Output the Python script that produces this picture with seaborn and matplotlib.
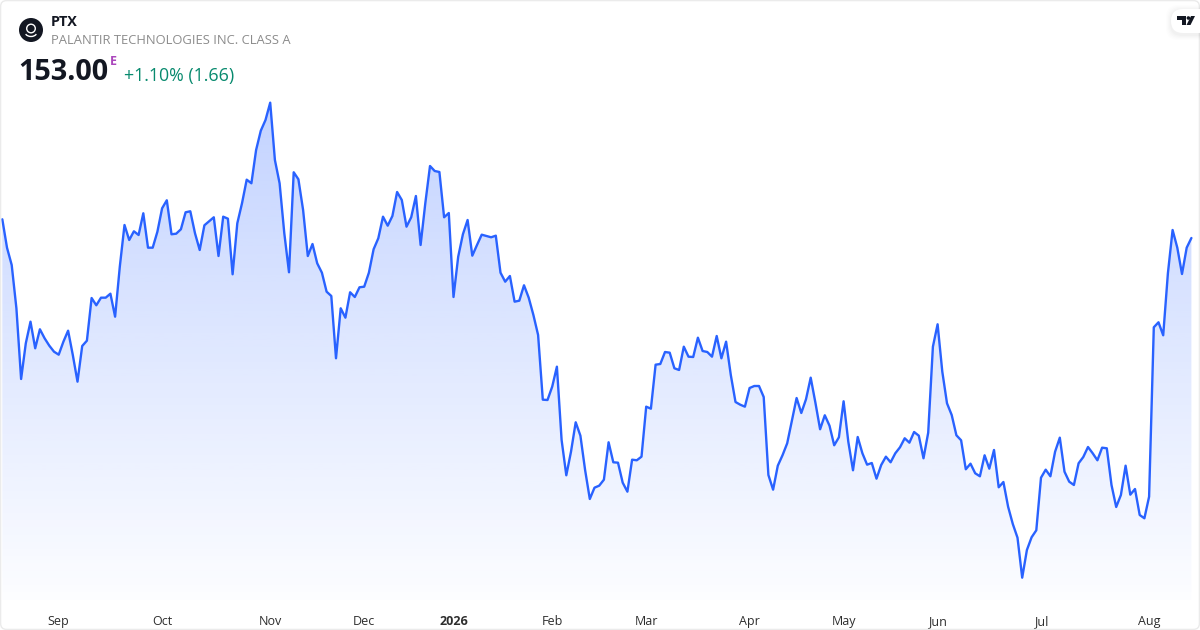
import numpy as np
import pandas as pd
import matplotlib
matplotlib.use("Agg")
import matplotlib.pyplot as plt
from matplotlib.patches import Circle, FancyBboxPatch, Polygon, Arc
import seaborn as sns

# closes, the y scale is not shown so only the last price is exact
closes = [
    157.68, 150.58, 146.25, 135.43, 117.75, 126.68, 132.08, 125.43, 130.18, 127.93,
    126.08, 124.58, 123.83, 127.08, 129.83, 123.75, 117.08, 126.00, 127.33, 138.00,
    136.18, 138.08, 138.08, 139.08, 133.33, 145.83, 156.25, 152.50, 154.68, 153.75,
    159.18, 150.58, 150.58, 154.58, 160.43, 162.43, 153.93, 154.08, 155.18, 159.43,
    159.68, 154.18, 150.00, 156.18, 157.18, 158.18, 148.50, 158.33, 157.83, 143.93,
    156.68, 161.68, 167.58, 166.68, 175.00, 179.83, 182.50, 186.83, 172.50, 166.68,
    154.18, 144.43, 169.43, 167.68, 160.00, 148.50, 151.50, 146.68, 144.33, 139.58,
    138.50, 122.93, 135.43, 133.08, 139.43, 138.25, 140.68, 140.83, 144.33, 150.18,
    152.93, 158.33, 156.08, 158.50, 164.50, 162.50, 155.83, 158.18, 163.50, 151.25,
    161.68, 171.00, 169.75, 169.50, 158.18, 159.25, 138.25, 148.33, 153.93, 157.50,
    148.58, 151.25, 153.83, 153.50, 153.18, 153.58, 144.33, 142.08, 143.50, 137.08,
    137.33, 141.18, 138.08, 133.75, 128.75, 112.58, 112.50, 115.83, 120.83, 102.50,
    93.68, 99.58, 106.93, 103.58, 95.00, 87.75, 90.58, 91.08, 92.58, 101.93,
    96.93, 96.83, 91.83, 89.58, 97.58, 97.43, 98.33, 110.83, 110.33, 121.33,
    121.50, 124.50, 124.33, 120.43, 120.00, 125.83, 123.33, 123.25, 128.08, 124.75,
    124.50, 123.33, 128.50, 122.93, 127.08, 118.75, 112.00, 111.33, 110.83, 115.50,
    116.00, 116.00, 113.25, 93.75, 90.08, 96.08, 98.68, 101.68, 107.33, 113.00,
    109.25, 112.68, 118.08, 111.83, 105.18, 108.68, 106.08, 101.18, 103.18, 112.18,
    102.08, 94.93, 103.25, 99.18, 96.33, 96.75, 92.83, 96.25, 98.33, 96.93,
    99.18, 100.68, 102.93, 101.83, 104.50, 103.58, 97.93, 104.33, 125.83, 131.43,
    119.58, 111.68, 108.75, 103.68, 102.43, 95.18, 96.58, 94.18, 93.43, 98.68,
    95.33, 100.00, 90.68, 92.00, 85.83, 81.50, 78.08, 68.08, 75.00, 78.18,
    79.93, 93.08, 95.08, 93.43, 99.58, 103.08, 94.58, 92.08, 91.25, 96.68,
    98.25, 100.75, 99.18, 97.43, 100.58, 100.43, 91.25, 85.75, 88.75, 96.08,
    88.83, 90.25, 83.75, 82.93, 88.33, 130.68, 131.93, 128.68, 144.18, 155.00,
    150.58, 144.00, 150.58, 153.00,
]
month_sessions = [12, 34, 57, 77, 96, 117, 137, 159, 179, 199, 221, 244]
month_labels = ["Sep", "Oct", "Nov", "Dec", "2026", "Feb", "Mar", "Apr", "May", "Jun", "Jul", "Aug"]

df = pd.DataFrame({"session": np.arange(len(closes)), "close": closes})

LINE = "#2962ff"
W, H = 1200, 630

sns.set_theme(style="white")
plt.rcParams["font.family"] = ["Open Sans", "DejaVu Sans"]

fig = plt.figure(figsize=(12, 6.3), dpi=100, facecolor="white")

# main chart, axes run from the top edge down to the time scale
ax = fig.add_axes([0, 30 / H, 1, 600 / H], facecolor="none")
sns.lineplot(data=df, x="session", y="close", color=LINE, linewidth=1.7, ax=ax, zorder=3)

area = ax.fill_between(df["session"], df["close"], 62.5, color="none", linewidth=0)
xlim = (-0.49, 254.83)
ylim = (62.5, 212.5)

# gradient under the line
grad = np.zeros((256, 1, 4))
grad[:, 0, :3] = matplotlib.colors.to_rgb(LINE)
grad[:, 0, 3] = np.linspace(0.283, 0.012, 256)
img = ax.imshow(grad, extent=(xlim[0], xlim[1], 62.5, 187.5), aspect="auto",
                origin="upper", zorder=2, interpolation="bilinear")
img.set_clip_path(area.get_paths()[0], transform=ax.transData)

ax.set_xlim(xlim)
ax.set_ylim(ylim)
ax.set_xticks(month_sessions)
ax.set_xticklabels(month_labels, fontsize=9, color="#2e2e2e")
ax.get_xticklabels()[4].set_fontweight("bold")
ax.tick_params(axis="x", length=0, pad=11)
ax.set_yticks([])
ax.set_xlabel("")
ax.set_ylabel("")
sns.despine(ax=ax, left=True, bottom=True)

# overlay in pixel coordinates for the header, logos and card border
ov = fig.add_axes([0, 0, 1, 1], facecolor="none")
ov.set_xlim(0, W)
ov.set_ylim(H, 0)
ov.axis("off")

ov.add_patch(FancyBboxPatch((0.6, 0.6), W - 1.2, H - 1.2, boxstyle="round,pad=0,rounding_size=6",
                            fc="none", ec="#ebebeb", lw=1.0, zorder=5))

# symbol logo
ov.add_patch(Circle((31, 30), 12, fc="#131722", ec="none"))
ov.add_patch(Circle((31, 28.5), 4.3, fc="none", ec="white", lw=1.0))
ov.add_patch(Arc((31, 31), 13, 11, theta1=30, theta2=150, ec="white", lw=1.0))

ov.text(51, 21.5, "PTX", fontsize=10.4, fontweight="bold", color="#131722", va="center", ha="left")
ov.text(51, 41, "PALANTIR TECHNOLOGIES INC. CLASS A", fontsize=9.4, color="#8c8c8c", va="center", ha="left")
ov.text(18, 73, "153.00", fontsize=20.8, fontweight="bold", color="#131722", va="center", ha="left")
ov.text(109.5, 61.5, "E", fontsize=9, fontweight="bold", color="#ab47bc", va="center", ha="left")
ov.text(124, 76, "+1.10% (1.66)", fontsize=12.8, color="#088a6e", va="center", ha="left")

# TradingView badge, soft shadow then white pill
for off, a in [(5, 0.006), (4, 0.008), (3, 0.01), (2, 0.012), (1, 0.015)]:
    ov.add_patch(FancyBboxPatch((1171 - off, 10 - off), 40 + off, 25 + 2 * off,
                                boxstyle="round,pad=0,rounding_size=12", fc="black", ec="none",
                                alpha=a, zorder=6))
ov.add_patch(FancyBboxPatch((1171, 9), 40, 24, boxstyle="round,pad=0,rounding_size=12",
                            fc="white", ec="none", zorder=7))
ov.add_patch(Polygon([(1177, 16), (1186, 16), (1186, 25), (1181.5, 25), (1181.5, 20), (1177, 20)],
                     fc="#131722", ec="none", zorder=8))
ov.add_patch(Circle((1188.4, 18), 1.8, fc="#131722", ec="none", zorder=8))
ov.add_patch(Polygon([(1191, 16), (1195, 16), (1190.5, 25), (1186.5, 25)], fc="#131722", ec="none", zorder=8))

fig.savefig("out.png", dpi=100)
